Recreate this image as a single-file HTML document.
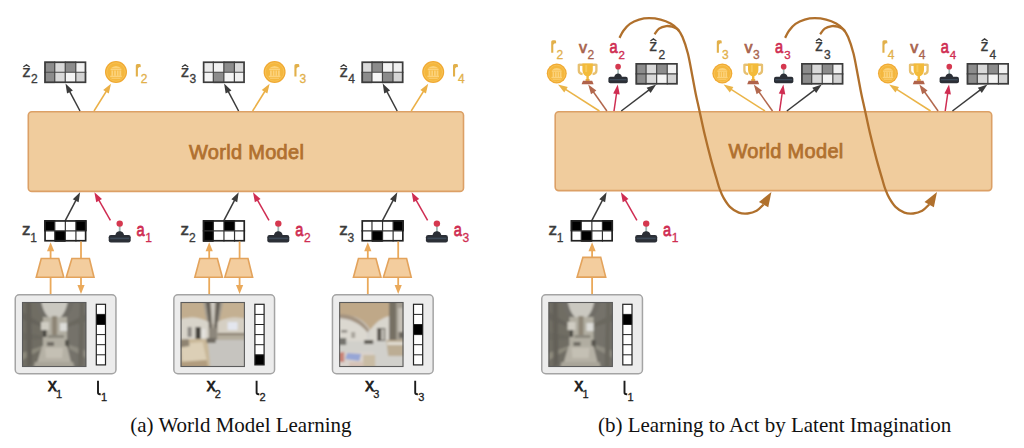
<!DOCTYPE html><html><head><meta charset="utf-8"><style>html,body{margin:0;padding:0;background:#fff;width:1024px;height:448px;overflow:hidden}svg{display:block}</style></head><body>
<svg width="1024" height="448" viewBox="0 0 1024 448" style="font-family:'Liberation Sans',sans-serif">
<defs><filter id="blur" x="-10%" y="-10%" width="120%" height="120%"><feGaussianBlur stdDeviation="0.9"/></filter><clipPath id="pc"><rect width="64.3" height="65"/></clipPath></defs>
<rect width="1024" height="448" fill="#fff"/>
<rect x="28.3" y="111.8" width="435.2" height="79.6" rx="3.5" fill="#f0cc9d" stroke="#dca066" stroke-width="1.6"/>
<text x="189" y="159.4" font-size="20" fill="#b0702f" stroke="#b0702f" stroke-width="0.75" letter-spacing="0.3">World Model</text>
<rect x="44.20" y="61.40" width="10.62" height="10.95" fill="#8c8c8c"/>
<rect x="54.73" y="61.40" width="10.62" height="10.95" fill="#d9d9d9"/>
<rect x="65.25" y="61.40" width="10.62" height="10.95" fill="#8c8c8c"/>
<rect x="75.78" y="61.40" width="10.62" height="10.95" fill="#f1f1f1"/>
<rect x="44.20" y="72.25" width="10.62" height="10.95" fill="#8c8c8c"/>
<rect x="54.73" y="72.25" width="10.62" height="10.95" fill="#d9d9d9"/>
<rect x="65.25" y="72.25" width="10.62" height="10.95" fill="#f4f4f4"/>
<rect x="75.78" y="72.25" width="10.62" height="10.95" fill="#d3d3d3"/>
<line x1="54.73" y1="61.4" x2="54.73" y2="83.1" stroke="#444" stroke-width="1.2"/>
<line x1="65.25" y1="61.4" x2="65.25" y2="83.1" stroke="#444" stroke-width="1.2"/>
<line x1="75.78" y1="61.4" x2="75.78" y2="83.1" stroke="#444" stroke-width="1.2"/>
<line x1="44.2" y1="72.25" x2="86.30000000000001" y2="72.25" stroke="#444" stroke-width="1.2"/>
<rect x="45.05" y="62.25" width="40.40" height="20.00" fill="none" stroke="#3c3c3c" stroke-width="1.7"/>
<text x="22.2" y="76.7" font-size="17" fill="#3b3b3b" stroke="#3b3b3b" stroke-width="0.25" font-weight="normal">z</text>
<text x="31.0" y="82.8" font-size="12" fill="#3b3b3b" stroke="#3b3b3b" stroke-width="0.3">2</text>
<path d="M23.40,67.00 L26.50,64.80 L29.60,67.00" fill="none" stroke="#3b3b3b" stroke-width="1.3" stroke-linejoin="miter"/>
<circle cx="116.0" cy="72" r="11" fill="#f0a932"/>
<circle cx="116.0" cy="72" r="9.3" fill="#f4b73e" stroke="#f9c65c" stroke-width="0.8"/>
<g transform="translate(116.0,72) scale(1.0)" fill="#fcd27a"><path d="M-5.6,-3.4 Q0,-8.6 5.6,-3.4 Z"/><rect x="-5.4" y="-3" width="10.8" height="1.2"/><rect x="-4.6" y="-1.5" width="1.8" height="5.4"/><rect x="-1.9" y="-1.5" width="1.8" height="5.4"/><rect x="0.8" y="-1.5" width="1.8" height="5.4"/><rect x="3.4" y="-1.5" width="1.8" height="5.4"/><rect x="-5.8" y="3.7" width="11.6" height="1.5"/><rect x="-4.5" y="5.8" width="9" height="1.1" opacity="0.8"/></g>
<path d="M135.80,76.50 V65.60 Q135.80,64.00 137.40,64.00 H139.40 Q140.70,64.00 140.70,65.30 V67.20 Q139.40,66.60 137.90,68.40 V76.50 Z" fill="#e2b04a"/>
<text x="140.8" y="82.5" font-size="12" fill="#e2b04a" stroke="#e2b04a" stroke-width="0.3">2</text>
<line x1="80.00" y1="111.00" x2="69.48" y2="91.11" stroke="#3b3b3b" stroke-width="1.5"/>
<path d="M65.50,83.60 L72.86,90.45 L67.03,93.54 Z" fill="#3b3b3b"/>
<line x1="94.00" y1="111.00" x2="106.50" y2="91.01" stroke="#ebb046" stroke-width="1.5"/>
<path d="M111.00,83.80 L108.76,93.60 L103.17,90.11 Z" fill="#ebb046"/>
<rect x="44.20" y="220.10" width="10.67" height="10.85" fill="#000"/>
<rect x="54.78" y="220.10" width="10.67" height="10.85" fill="#fff"/>
<rect x="65.35" y="220.10" width="10.67" height="10.85" fill="#fff"/>
<rect x="75.92" y="220.10" width="10.67" height="10.85" fill="#000"/>
<rect x="44.20" y="230.85" width="10.67" height="10.85" fill="#fff"/>
<rect x="54.78" y="230.85" width="10.67" height="10.85" fill="#000"/>
<rect x="65.35" y="230.85" width="10.67" height="10.85" fill="#fff"/>
<rect x="75.92" y="230.85" width="10.67" height="10.85" fill="#fff"/>
<line x1="54.78" y1="220.1" x2="54.78" y2="241.6" stroke="#333" stroke-width="1.2"/>
<line x1="65.35" y1="220.1" x2="65.35" y2="241.6" stroke="#333" stroke-width="1.2"/>
<line x1="75.92" y1="220.1" x2="75.92" y2="241.6" stroke="#333" stroke-width="1.2"/>
<line x1="44.2" y1="230.85" x2="86.5" y2="230.85" stroke="#333" stroke-width="1.2"/>
<rect x="45.05" y="220.95" width="40.60" height="19.80" fill="none" stroke="#222" stroke-width="1.7"/>
<text x="22.0" y="235.4" font-size="17" fill="#3b3b3b" stroke="#3b3b3b" stroke-width="0.5">z</text>
<text x="30.3" y="241.5" font-size="12" fill="#3b3b3b" stroke="#3b3b3b" stroke-width="0.3">1</text>
<g transform="translate(108.7,220) scale(1.0)">
<rect x="10.1" y="5" width="1.8" height="8" fill="#9fb6b4"/>
<circle cx="11" cy="3.6" r="3.2" fill="#d5384f"/>
<path d="M6.5,15.5 C7.5,12 9,11.3 11,11.3 C13,11.3 14.5,12 15.5,15.5 Z" fill="#2b2f36"/>
<rect x="0" y="15" width="22" height="7.5" rx="2.2" fill="#2b2f36"/>
<rect x="1.5" y="17.6" width="19" height="1.6" fill="#3d4a58"/>
</g>
<text transform="translate(136.6,236.1) scale(0.86,1.08)" font-size="17" fill="#cf2d52" stroke="#cf2d52" stroke-width="0.7">a</text>
<text x="145.3" y="241.7" font-size="12" fill="#cf2d52" stroke="#cf2d52" stroke-width="0.3">1</text>
<line x1="65.40" y1="220.40" x2="76.16" y2="199.83" stroke="#3b3b3b" stroke-width="1.5"/>
<path d="M80.10,192.30 L78.62,202.25 L72.77,199.19 Z" fill="#3b3b3b"/>
<line x1="110.40" y1="220.40" x2="98.61" y2="199.69" stroke="#cf2d52" stroke-width="1.5"/>
<path d="M94.40,192.30 L101.97,198.92 L96.23,202.19 Z" fill="#cf2d52"/>
<line x1="50.60" y1="294.40" x2="50.60" y2="250.20" stroke="#eaa95a" stroke-width="1.8"/>
<path d="M50.60,242.20 L54.20,251.20 L47.00,251.20 Z" fill="#eaa95a"/>
<line x1="81.00" y1="241.50" x2="81.00" y2="286.00" stroke="#eaa95a" stroke-width="1.8"/>
<path d="M81.00,294.00 L77.40,285.00 L84.60,285.00 Z" fill="#eaa95a"/>
<path d="M41.25,258.5 L58.75,258.5 L63.75,277.25 L36.25,277.25 Z" fill="#f3cd9e" stroke="#e3a35c" stroke-width="1.6" stroke-linejoin="miter"/>
<path d="M71.9,258.5 L89.4,258.5 L94.0,277.25 L66.25,277.25 Z" fill="#f3cd9e" stroke="#e3a35c" stroke-width="1.6" stroke-linejoin="miter"/>
<rect x="15.25" y="294.75" width="100.7" height="79" rx="4" fill="#ececec" stroke="#a4a4a4" stroke-width="1.5"/>
<g transform="translate(22.0,302)"><g clip-path="url(#pc)"><g filter="url(#blur)"><rect x="-3" y="-3" width="71" height="71" fill="#8f8c81"/><path d="M-3,-3 L17,-3 L21,16 L21,46 L13,68 L-3,68 Z" fill="#706d64"/><path d="M-3,8 L20,22 L20,25 L-3,16 Z" fill="#66635b"/><path d="M-3,30 L20,34 L20,37 L-3,38 Z" fill="#6a675e"/><path d="M-3,52 L20,44 L18,48 L-3,60 Z" fill="#8c897c"/><path d="M4,-3 L9,-3 L10,62 L5,66 Z" fill="#636058"/><path d="M68,-3 L48,-3 L44,16 L44,46 L51,68 L68,68 Z" fill="#75726a"/><path d="M68,10 L45,22 L45,25 L68,18 Z" fill="#6a675f"/><path d="M68,50 L45,42 L46,46 L68,58 Z" fill="#8e8b80"/><path d="M58,-3 L62,-3 L61,64 L56,66 Z" fill="#6a675f"/><path d="M17,-3 L48,-3 L43,15 L22,15 Z" fill="#cac8c0"/><path d="M13,-3 L19,-3 Q20,9 27,16 L23,18 Q14,10 13,-3 Z" fill="#6f6d66"/><path d="M52,-3 L46,-3 Q45,9 38,16 L42,18 Q51,10 52,-3 Z" fill="#6f6d66"/><rect x="21" y="15" width="24" height="30" fill="#b1ada1"/><rect x="19" y="20" width="8" height="8" fill="#cfccc2"/><rect x="30" y="14" width="5" height="20" fill="#8d8576"/><rect x="38" y="21" width="7" height="8" fill="#dcdcd8"/><rect x="21" y="28" width="3.5" height="7" fill="#47443f"/><rect x="26" y="33" width="16" height="3" fill="#8a877d"/><rect x="43" y="38" width="4" height="8" fill="#55524b"/><path d="M20,44 L45,44 L51,68 L13,68 Z" fill="#b5b1a5"/><path d="M23,46 L41,46 L40,56 L24,56 Z" fill="#c4c0b4"/><rect x="25" y="40" width="7" height="4" fill="#6f6c63"/><path d="M13,60 L51,60 L53,68 L11,68 Z" fill="#a9a599"/></g></g></g>
<rect x="22.5" y="302.5" width="63.3" height="64" fill="none" stroke="#5c5c5c" stroke-width="1.1"/>
<rect x="96.3" y="304.3" width="9.2" height="60.6" fill="#fff"/>
<rect x="96.3" y="314.40" width="9.2" height="10.10" fill="#000"/>
<line x1="96.3" y1="314.40" x2="105.5" y2="314.40" stroke="#222" stroke-width="1"/>
<line x1="96.3" y1="324.50" x2="105.5" y2="324.50" stroke="#222" stroke-width="1"/>
<line x1="96.3" y1="334.60" x2="105.5" y2="334.60" stroke="#222" stroke-width="1"/>
<line x1="96.3" y1="344.70" x2="105.5" y2="344.70" stroke="#222" stroke-width="1"/>
<line x1="96.3" y1="354.80" x2="105.5" y2="354.80" stroke="#222" stroke-width="1"/>
<rect x="96.3" y="304.3" width="9.2" height="60.6" fill="none" stroke="#222" stroke-width="1.2"/>
<text x="48.1" y="391.1" font-size="17.5" fill="#1c1c1c" stroke="#1c1c1c" stroke-width="0.75">x</text>
<text x="56.1" y="397.9" font-size="11" fill="#1c1c1c" stroke="#1c1c1c" stroke-width="0.3">1</text>
<path d="M98.0,380.8 V392.5 Q98.0,394.2 100.0,394.2 H100.7" fill="none" stroke="#1c1c1c" stroke-width="1.9"/>
<text x="101.0" y="401.1" font-size="11" fill="#1c1c1c" stroke="#1c1c1c" stroke-width="0.3">1</text>
<rect x="202.80" y="61.40" width="10.62" height="10.95" fill="#eaeaea"/>
<rect x="213.33" y="61.40" width="10.62" height="10.95" fill="#f1f1f1"/>
<rect x="223.85" y="61.40" width="10.62" height="10.95" fill="#8c8c8c"/>
<rect x="234.38" y="61.40" width="10.62" height="10.95" fill="#d9d9d9"/>
<rect x="202.80" y="72.25" width="10.62" height="10.95" fill="#f4f4f4"/>
<rect x="213.33" y="72.25" width="10.62" height="10.95" fill="#8c8c8c"/>
<rect x="223.85" y="72.25" width="10.62" height="10.95" fill="#f4f4f4"/>
<rect x="234.38" y="72.25" width="10.62" height="10.95" fill="#f1f1f1"/>
<line x1="213.33" y1="61.4" x2="213.33" y2="83.1" stroke="#444" stroke-width="1.2"/>
<line x1="223.85" y1="61.4" x2="223.85" y2="83.1" stroke="#444" stroke-width="1.2"/>
<line x1="234.38" y1="61.4" x2="234.38" y2="83.1" stroke="#444" stroke-width="1.2"/>
<line x1="202.8" y1="72.25" x2="244.9" y2="72.25" stroke="#444" stroke-width="1.2"/>
<rect x="203.65" y="62.25" width="40.40" height="20.00" fill="none" stroke="#3c3c3c" stroke-width="1.7"/>
<text x="180.79999999999998" y="76.7" font-size="17" fill="#3b3b3b" stroke="#3b3b3b" stroke-width="0.25" font-weight="normal">z</text>
<text x="189.6" y="82.8" font-size="12" fill="#3b3b3b" stroke="#3b3b3b" stroke-width="0.3">3</text>
<path d="M182.00,67.00 L185.10,64.80 L188.20,67.00" fill="none" stroke="#3b3b3b" stroke-width="1.3" stroke-linejoin="miter"/>
<circle cx="274.6" cy="72" r="11" fill="#f0a932"/>
<circle cx="274.6" cy="72" r="9.3" fill="#f4b73e" stroke="#f9c65c" stroke-width="0.8"/>
<g transform="translate(274.6,72) scale(1.0)" fill="#fcd27a"><path d="M-5.6,-3.4 Q0,-8.6 5.6,-3.4 Z"/><rect x="-5.4" y="-3" width="10.8" height="1.2"/><rect x="-4.6" y="-1.5" width="1.8" height="5.4"/><rect x="-1.9" y="-1.5" width="1.8" height="5.4"/><rect x="0.8" y="-1.5" width="1.8" height="5.4"/><rect x="3.4" y="-1.5" width="1.8" height="5.4"/><rect x="-5.8" y="3.7" width="11.6" height="1.5"/><rect x="-4.5" y="5.8" width="9" height="1.1" opacity="0.8"/></g>
<path d="M294.40,76.50 V65.60 Q294.40,64.00 296.00,64.00 H298.00 Q299.30,64.00 299.30,65.30 V67.20 Q298.00,66.60 296.50,68.40 V76.50 Z" fill="#e2b04a"/>
<text x="299.4" y="82.5" font-size="12" fill="#e2b04a" stroke="#e2b04a" stroke-width="0.3">3</text>
<line x1="238.60" y1="111.00" x2="228.08" y2="91.11" stroke="#3b3b3b" stroke-width="1.5"/>
<path d="M224.10,83.60 L231.46,90.45 L225.63,93.54 Z" fill="#3b3b3b"/>
<line x1="252.60" y1="111.00" x2="265.10" y2="91.01" stroke="#ebb046" stroke-width="1.5"/>
<path d="M269.60,83.80 L267.36,93.60 L261.77,90.11 Z" fill="#ebb046"/>
<rect x="202.80" y="220.10" width="10.67" height="10.85" fill="#000"/>
<rect x="213.38" y="220.10" width="10.67" height="10.85" fill="#fff"/>
<rect x="223.95" y="220.10" width="10.67" height="10.85" fill="#000"/>
<rect x="234.53" y="220.10" width="10.67" height="10.85" fill="#fff"/>
<rect x="202.80" y="230.85" width="10.67" height="10.85" fill="#000"/>
<rect x="213.38" y="230.85" width="10.67" height="10.85" fill="#fff"/>
<rect x="223.95" y="230.85" width="10.67" height="10.85" fill="#fff"/>
<rect x="234.53" y="230.85" width="10.67" height="10.85" fill="#fff"/>
<line x1="213.38" y1="220.1" x2="213.38" y2="241.6" stroke="#333" stroke-width="1.2"/>
<line x1="223.95" y1="220.1" x2="223.95" y2="241.6" stroke="#333" stroke-width="1.2"/>
<line x1="234.53" y1="220.1" x2="234.53" y2="241.6" stroke="#333" stroke-width="1.2"/>
<line x1="202.8" y1="230.85" x2="245.10000000000002" y2="230.85" stroke="#333" stroke-width="1.2"/>
<rect x="203.65" y="220.95" width="40.60" height="19.80" fill="none" stroke="#222" stroke-width="1.7"/>
<text x="180.6" y="235.4" font-size="17" fill="#3b3b3b" stroke="#3b3b3b" stroke-width="0.5">z</text>
<text x="188.9" y="241.5" font-size="12" fill="#3b3b3b" stroke="#3b3b3b" stroke-width="0.3">2</text>
<g transform="translate(267.3,220) scale(1.0)">
<rect x="10.1" y="5" width="1.8" height="8" fill="#9fb6b4"/>
<circle cx="11" cy="3.6" r="3.2" fill="#d5384f"/>
<path d="M6.5,15.5 C7.5,12 9,11.3 11,11.3 C13,11.3 14.5,12 15.5,15.5 Z" fill="#2b2f36"/>
<rect x="0" y="15" width="22" height="7.5" rx="2.2" fill="#2b2f36"/>
<rect x="1.5" y="17.6" width="19" height="1.6" fill="#3d4a58"/>
</g>
<text transform="translate(295.2,236.1) scale(0.86,1.08)" font-size="17" fill="#cf2d52" stroke="#cf2d52" stroke-width="0.7">a</text>
<text x="303.9" y="241.7" font-size="12" fill="#cf2d52" stroke="#cf2d52" stroke-width="0.3">2</text>
<line x1="224.00" y1="220.40" x2="234.76" y2="199.83" stroke="#3b3b3b" stroke-width="1.5"/>
<path d="M238.70,192.30 L237.22,202.25 L231.37,199.19 Z" fill="#3b3b3b"/>
<line x1="269.00" y1="220.40" x2="257.21" y2="199.69" stroke="#cf2d52" stroke-width="1.5"/>
<path d="M253.00,192.30 L260.57,198.92 L254.83,202.19 Z" fill="#cf2d52"/>
<line x1="209.20" y1="294.40" x2="209.20" y2="250.20" stroke="#eaa95a" stroke-width="1.8"/>
<path d="M209.20,242.20 L212.80,251.20 L205.60,251.20 Z" fill="#eaa95a"/>
<line x1="239.60" y1="241.50" x2="239.60" y2="286.00" stroke="#eaa95a" stroke-width="1.8"/>
<path d="M239.60,294.00 L236.00,285.00 L243.20,285.00 Z" fill="#eaa95a"/>
<path d="M199.85,258.5 L217.35,258.5 L222.35,277.25 L194.85,277.25 Z" fill="#f3cd9e" stroke="#e3a35c" stroke-width="1.6" stroke-linejoin="miter"/>
<path d="M230.5,258.5 L248.0,258.5 L252.6,277.25 L224.85,277.25 Z" fill="#f3cd9e" stroke="#e3a35c" stroke-width="1.6" stroke-linejoin="miter"/>
<rect x="173.85" y="294.75" width="100.7" height="79" rx="4" fill="#ececec" stroke="#a4a4a4" stroke-width="1.5"/>
<g transform="translate(180.6,302)"><g clip-path="url(#pc)"><g filter="url(#blur)"><rect x="-3" y="-3" width="71" height="71" fill="#cfc9bd"/><path d="M-3,-3 H30 L28,20 Q14,12 -3,18 Z" fill="#c2ad8e"/><path d="M35,-3 H68 V18 Q52,12 37,20 Z" fill="#c4b092"/><path d="M22,-3 L43,-3 L37,30 L28,30 Z" fill="#a39c90"/><path d="M25,-3 L29,-3 L31,28 L29,28 Z" fill="#5f5a52"/><path d="M36,-3 L40,-3 L36,28 L34,28 Z" fill="#5f5a52"/><path d="M30.5,-3 L34,-3 L33,22 L32,22 Z" fill="#d6d2ca"/><rect x="28" y="26" width="9" height="13" fill="#8d877b"/><path d="M-3,18 Q14,12 28,20 V38 H-3 Z" fill="#d8d4ca"/><rect x="7" y="25" width="4" height="10" fill="#8a8782"/><rect x="15" y="25" width="5" height="12" fill="#3f3c38"/><rect x="21" y="27" width="4" height="9" fill="#e4e2de"/><path d="M37,20 Q52,12 68,18 V33 H37 Z" fill="#d5cfc3"/><rect x="47" y="20" width="10" height="8" fill="#e3e6ee"/><rect x="37" y="31" width="31" height="2.5" fill="#857c6c"/><rect x="37" y="33.5" width="31" height="4.5" fill="#b5ad9e"/><rect x="26" y="38" width="42" height="30" fill="#c6c4bf"/><path d="M-3,37 H27 L30,68 H-3 Z" fill="#c9b899"/><path d="M0,42 L22,40 L26,58 L2,61 Z" fill="#dccfb6"/><path d="M-3,38 L8,37 L9,44 L-3,46 Z" fill="#8f8472"/><path d="M-3,60 L26,58 L28,68 L-3,68 Z" fill="#b19c7e"/><rect x="26" y="36" width="9" height="5" fill="#6f6a62"/></g></g></g>
<rect x="181.1" y="302.5" width="63.3" height="64" fill="none" stroke="#5c5c5c" stroke-width="1.1"/>
<rect x="254.89999999999998" y="304.3" width="9.2" height="60.6" fill="#fff"/>
<rect x="254.89999999999998" y="354.80" width="9.2" height="10.10" fill="#000"/>
<line x1="254.89999999999998" y1="314.40" x2="264.09999999999997" y2="314.40" stroke="#222" stroke-width="1"/>
<line x1="254.89999999999998" y1="324.50" x2="264.09999999999997" y2="324.50" stroke="#222" stroke-width="1"/>
<line x1="254.89999999999998" y1="334.60" x2="264.09999999999997" y2="334.60" stroke="#222" stroke-width="1"/>
<line x1="254.89999999999998" y1="344.70" x2="264.09999999999997" y2="344.70" stroke="#222" stroke-width="1"/>
<line x1="254.89999999999998" y1="354.80" x2="264.09999999999997" y2="354.80" stroke="#222" stroke-width="1"/>
<rect x="254.89999999999998" y="304.3" width="9.2" height="60.6" fill="none" stroke="#222" stroke-width="1.2"/>
<text x="206.7" y="391.1" font-size="17.5" fill="#1c1c1c" stroke="#1c1c1c" stroke-width="0.75">x</text>
<text x="214.7" y="397.9" font-size="11" fill="#1c1c1c" stroke="#1c1c1c" stroke-width="0.3">2</text>
<path d="M256.6,380.8 V392.5 Q256.6,394.2 258.6,394.2 H259.3" fill="none" stroke="#1c1c1c" stroke-width="1.9"/>
<text x="259.6" y="401.1" font-size="11" fill="#1c1c1c" stroke="#1c1c1c" stroke-width="0.3">2</text>
<rect x="361.40" y="61.40" width="10.62" height="10.95" fill="#d9d9d9"/>
<rect x="371.92" y="61.40" width="10.62" height="10.95" fill="#8c8c8c"/>
<rect x="382.45" y="61.40" width="10.62" height="10.95" fill="#f4f4f4"/>
<rect x="392.97" y="61.40" width="10.62" height="10.95" fill="#f1f1f1"/>
<rect x="361.40" y="72.25" width="10.62" height="10.95" fill="#8c8c8c"/>
<rect x="371.92" y="72.25" width="10.62" height="10.95" fill="#f7f7f7"/>
<rect x="382.45" y="72.25" width="10.62" height="10.95" fill="#8c8c8c"/>
<rect x="392.97" y="72.25" width="10.62" height="10.95" fill="#d6d6d6"/>
<line x1="371.92" y1="61.4" x2="371.92" y2="83.1" stroke="#444" stroke-width="1.2"/>
<line x1="382.45" y1="61.4" x2="382.45" y2="83.1" stroke="#444" stroke-width="1.2"/>
<line x1="392.97" y1="61.4" x2="392.97" y2="83.1" stroke="#444" stroke-width="1.2"/>
<line x1="361.4" y1="72.25" x2="403.5" y2="72.25" stroke="#444" stroke-width="1.2"/>
<rect x="362.25" y="62.25" width="40.40" height="20.00" fill="none" stroke="#3c3c3c" stroke-width="1.7"/>
<text x="339.4" y="76.7" font-size="17" fill="#3b3b3b" stroke="#3b3b3b" stroke-width="0.25" font-weight="normal">z</text>
<text x="348.2" y="82.8" font-size="12" fill="#3b3b3b" stroke="#3b3b3b" stroke-width="0.3">4</text>
<path d="M340.60,67.00 L343.70,64.80 L346.80,67.00" fill="none" stroke="#3b3b3b" stroke-width="1.3" stroke-linejoin="miter"/>
<circle cx="433.2" cy="72" r="11" fill="#f0a932"/>
<circle cx="433.2" cy="72" r="9.3" fill="#f4b73e" stroke="#f9c65c" stroke-width="0.8"/>
<g transform="translate(433.2,72) scale(1.0)" fill="#fcd27a"><path d="M-5.6,-3.4 Q0,-8.6 5.6,-3.4 Z"/><rect x="-5.4" y="-3" width="10.8" height="1.2"/><rect x="-4.6" y="-1.5" width="1.8" height="5.4"/><rect x="-1.9" y="-1.5" width="1.8" height="5.4"/><rect x="0.8" y="-1.5" width="1.8" height="5.4"/><rect x="3.4" y="-1.5" width="1.8" height="5.4"/><rect x="-5.8" y="3.7" width="11.6" height="1.5"/><rect x="-4.5" y="5.8" width="9" height="1.1" opacity="0.8"/></g>
<path d="M453.00,76.50 V65.60 Q453.00,64.00 454.60,64.00 H456.60 Q457.90,64.00 457.90,65.30 V67.20 Q456.60,66.60 455.10,68.40 V76.50 Z" fill="#e2b04a"/>
<text x="458.0" y="82.5" font-size="12" fill="#e2b04a" stroke="#e2b04a" stroke-width="0.3">4</text>
<line x1="397.20" y1="111.00" x2="386.68" y2="91.11" stroke="#3b3b3b" stroke-width="1.5"/>
<path d="M382.70,83.60 L390.06,90.45 L384.23,93.54 Z" fill="#3b3b3b"/>
<line x1="411.20" y1="111.00" x2="423.70" y2="91.01" stroke="#ebb046" stroke-width="1.5"/>
<path d="M428.20,83.80 L425.96,93.60 L420.37,90.11 Z" fill="#ebb046"/>
<rect x="361.40" y="220.10" width="10.67" height="10.85" fill="#fff"/>
<rect x="371.97" y="220.10" width="10.67" height="10.85" fill="#fff"/>
<rect x="382.55" y="220.10" width="10.67" height="10.85" fill="#fff"/>
<rect x="393.12" y="220.10" width="10.67" height="10.85" fill="#000"/>
<rect x="361.40" y="230.85" width="10.67" height="10.85" fill="#fff"/>
<rect x="371.97" y="230.85" width="10.67" height="10.85" fill="#000"/>
<rect x="382.55" y="230.85" width="10.67" height="10.85" fill="#fff"/>
<rect x="393.12" y="230.85" width="10.67" height="10.85" fill="#fff"/>
<line x1="371.97" y1="220.1" x2="371.97" y2="241.6" stroke="#333" stroke-width="1.2"/>
<line x1="382.55" y1="220.1" x2="382.55" y2="241.6" stroke="#333" stroke-width="1.2"/>
<line x1="393.12" y1="220.1" x2="393.12" y2="241.6" stroke="#333" stroke-width="1.2"/>
<line x1="361.4" y1="230.85" x2="403.7" y2="230.85" stroke="#333" stroke-width="1.2"/>
<rect x="362.25" y="220.95" width="40.60" height="19.80" fill="none" stroke="#222" stroke-width="1.7"/>
<text x="339.2" y="235.4" font-size="17" fill="#3b3b3b" stroke="#3b3b3b" stroke-width="0.5">z</text>
<text x="347.5" y="241.5" font-size="12" fill="#3b3b3b" stroke="#3b3b3b" stroke-width="0.3">3</text>
<g transform="translate(425.9,220) scale(1.0)">
<rect x="10.1" y="5" width="1.8" height="8" fill="#9fb6b4"/>
<circle cx="11" cy="3.6" r="3.2" fill="#d5384f"/>
<path d="M6.5,15.5 C7.5,12 9,11.3 11,11.3 C13,11.3 14.5,12 15.5,15.5 Z" fill="#2b2f36"/>
<rect x="0" y="15" width="22" height="7.5" rx="2.2" fill="#2b2f36"/>
<rect x="1.5" y="17.6" width="19" height="1.6" fill="#3d4a58"/>
</g>
<text transform="translate(453.79999999999995,236.1) scale(0.86,1.08)" font-size="17" fill="#cf2d52" stroke="#cf2d52" stroke-width="0.7">a</text>
<text x="462.5" y="241.7" font-size="12" fill="#cf2d52" stroke="#cf2d52" stroke-width="0.3">3</text>
<line x1="382.60" y1="220.40" x2="393.36" y2="199.83" stroke="#3b3b3b" stroke-width="1.5"/>
<path d="M397.30,192.30 L395.82,202.25 L389.97,199.19 Z" fill="#3b3b3b"/>
<line x1="427.60" y1="220.40" x2="415.81" y2="199.69" stroke="#cf2d52" stroke-width="1.5"/>
<path d="M411.60,192.30 L419.17,198.92 L413.43,202.19 Z" fill="#cf2d52"/>
<line x1="367.80" y1="294.40" x2="367.80" y2="250.20" stroke="#eaa95a" stroke-width="1.8"/>
<path d="M367.80,242.20 L371.40,251.20 L364.20,251.20 Z" fill="#eaa95a"/>
<line x1="398.20" y1="241.50" x2="398.20" y2="286.00" stroke="#eaa95a" stroke-width="1.8"/>
<path d="M398.20,294.00 L394.60,285.00 L401.80,285.00 Z" fill="#eaa95a"/>
<path d="M358.45,258.5 L375.95,258.5 L380.95,277.25 L353.45,277.25 Z" fill="#f3cd9e" stroke="#e3a35c" stroke-width="1.6" stroke-linejoin="miter"/>
<path d="M389.1,258.5 L406.6,258.5 L411.2,277.25 L383.45,277.25 Z" fill="#f3cd9e" stroke="#e3a35c" stroke-width="1.6" stroke-linejoin="miter"/>
<rect x="332.45" y="294.75" width="100.7" height="79" rx="4" fill="#ececec" stroke="#a4a4a4" stroke-width="1.5"/>
<g transform="translate(339.2,302)"><g clip-path="url(#pc)"><g filter="url(#blur)"><rect x="-3" y="-3" width="71" height="71" fill="#d3d1cc"/><path d="M-3,-3 H52 V14 Q40,16 31,28 Q20,10 -3,14 Z" fill="#bfa888"/><path d="M-3,12.5 Q18,10.5 30,28 L28.5,30.5 Q16,15.5 -3,16 Z" fill="#a39380"/><path d="M-3,17 Q16,16 28,31 L28,40 H-3 Z" fill="#dbd8d0"/><rect x="2" y="28" width="6" height="2.5" fill="#8a8680"/><rect x="12" y="30" width="4" height="6" fill="#a8a49c"/><path d="M31,28 Q40,16 50,14 V40 H30 Z" fill="#d9d6ce"/><rect x="38" y="26" width="8" height="13" fill="#56524c"/><rect x="42" y="27" width="3" height="11" fill="#c4c0b8"/><rect x="50" y="-3" width="18" height="44" fill="#a49e92"/><rect x="50" y="-3" width="7" height="44" fill="#766f64"/><rect x="59" y="6" width="5" height="24" fill="#c4bfb5"/><rect x="60" y="30" width="6" height="6" fill="#6a665e"/><rect x="-3" y="39" width="71" height="30" fill="#d1d0cb"/><path d="M47,38 H68 V54 H49 Z" fill="#bcad94"/><rect x="48" y="40" width="18" height="3" fill="#e0dcd2"/><rect x="25" y="38" width="9" height="4" fill="#5f5c55"/><path d="M-3,36 H7 V43 H-3 Z" fill="#75736e"/><path d="M-3,50 L34,50 L36,66 L-3,66 Z" fill="#d9d2cc"/><path d="M8,51 L22,52 L20,59 L6,57 Z" fill="#97a6d6"/><path d="M-3,51 L5,50 L5,60 L-3,60 Z" fill="#c98276"/><path d="M24,53 L36,53 L36,66 L24,66 Z" fill="#c9bca4"/><path d="M10,60 L24,60 L24,66 L10,66 Z" fill="#d5c2b6"/></g></g></g>
<rect x="339.7" y="302.5" width="63.3" height="64" fill="none" stroke="#5c5c5c" stroke-width="1.1"/>
<rect x="413.5" y="304.3" width="9.2" height="60.6" fill="#fff"/>
<rect x="413.5" y="324.50" width="9.2" height="10.10" fill="#000"/>
<line x1="413.5" y1="314.40" x2="422.7" y2="314.40" stroke="#222" stroke-width="1"/>
<line x1="413.5" y1="324.50" x2="422.7" y2="324.50" stroke="#222" stroke-width="1"/>
<line x1="413.5" y1="334.60" x2="422.7" y2="334.60" stroke="#222" stroke-width="1"/>
<line x1="413.5" y1="344.70" x2="422.7" y2="344.70" stroke="#222" stroke-width="1"/>
<line x1="413.5" y1="354.80" x2="422.7" y2="354.80" stroke="#222" stroke-width="1"/>
<rect x="413.5" y="304.3" width="9.2" height="60.6" fill="none" stroke="#222" stroke-width="1.2"/>
<text x="365.3" y="391.1" font-size="17.5" fill="#1c1c1c" stroke="#1c1c1c" stroke-width="0.75">x</text>
<text x="373.3" y="397.9" font-size="11" fill="#1c1c1c" stroke="#1c1c1c" stroke-width="0.3">3</text>
<path d="M415.2,380.8 V392.5 Q415.2,394.2 417.2,394.2 H417.9" fill="none" stroke="#1c1c1c" stroke-width="1.9"/>
<text x="418.2" y="401.1" font-size="11" fill="#1c1c1c" stroke="#1c1c1c" stroke-width="0.3">3</text>
<text x="240.9" y="432" font-size="21" fill="#111" text-anchor="middle" style="font-family:'Liberation Serif',serif">(a) World Model Learning</text>
<rect x="555.2" y="111.8" width="436.5" height="78.8" rx="3.5" fill="#f0cc9d" stroke="#dca066" stroke-width="1.6"/>
<text x="728.4" y="158.1" font-size="20" fill="#b0702f" stroke="#b0702f" stroke-width="0.75" letter-spacing="0.3">World Model</text>
<path d="M551.20,52.75 V41.85 Q551.20,40.25 552.80,40.25 H554.80 Q556.10,40.25 556.10,41.55 V43.45 Q554.80,42.85 553.30,44.65 V52.75 Z" fill="#e2b04a"/>
<text x="556.5" y="58.8" font-size="12" fill="#e2b04a" stroke="#e2b04a" stroke-width="0.3">2</text>
<text x="579.0" y="52.6" font-size="16" fill="#a8634d" stroke="#a8634d" stroke-width="0.7" font-weight="normal">v</text>
<text x="587.5" y="58.9" font-size="12" fill="#a8634d" stroke="#a8634d" stroke-width="0.3">2</text>
<text transform="translate(609.5,52.5) scale(0.86,1.06)" font-size="17" fill="#cf2d52" stroke="#cf2d52" stroke-width="0.7">a</text>
<text x="618.6" y="58.8" font-size="11.5" fill="#cf2d52" stroke="#cf2d52" stroke-width="0.35">2</text>
<text x="649.3" y="51.4" font-size="16" fill="#3b3b3b" stroke="#3b3b3b" stroke-width="0.25" font-weight="normal">z</text>
<text x="658.4" y="58.8" font-size="12" fill="#3b3b3b" stroke="#3b3b3b" stroke-width="0.3">2</text>
<path d="M650.40,41.10 L653.40,38.90 L656.40,41.10" fill="none" stroke="#3b3b3b" stroke-width="1.3" stroke-linejoin="miter"/>
<circle cx="556.75" cy="73.5" r="10" fill="#f0a932"/>
<circle cx="556.75" cy="73.5" r="8.3" fill="#f4b73e" stroke="#f9c65c" stroke-width="0.8"/>
<g transform="translate(556.75,73.5) scale(0.9090909090909091)" fill="#fcd27a"><path d="M-5.6,-3.4 Q0,-8.6 5.6,-3.4 Z"/><rect x="-5.4" y="-3" width="10.8" height="1.2"/><rect x="-4.6" y="-1.5" width="1.8" height="5.4"/><rect x="-1.9" y="-1.5" width="1.8" height="5.4"/><rect x="0.8" y="-1.5" width="1.8" height="5.4"/><rect x="3.4" y="-1.5" width="1.8" height="5.4"/><rect x="-5.8" y="3.7" width="11.6" height="1.5"/><rect x="-4.5" y="5.8" width="9" height="1.1" opacity="0.8"/></g>
<g transform="translate(576.6,63.6)">
<path d="M2.2,1.2 H19.8 V7 Q19.8,10.2 16,10.6" fill="none" stroke="#e7c070" stroke-width="2.3" stroke-linejoin="round"/>
<path d="M19.8,1.2 H2.2 V7 Q2.2,10.2 6,10.6" fill="none" stroke="#e7c070" stroke-width="2.3" stroke-linejoin="round"/>
<path d="M5.8,0 H16.2 V6.5 C16.2,10 14,12 12.2,12.6 V16.5 H9.8 V12.6 C8,12 5.8,10 5.8,6.5 Z" fill="#f3bb3a"/>
<rect x="8.6" y="1.5" width="2" height="7" fill="#f8cf66" opacity="0.7"/>
<rect x="9" y="15.5" width="4" height="1.8" fill="#e9a83a"/>
<path d="M5,20.6 L6.4,17.2 H15.6 L17,20.6 Z" fill="#b0624a"/>
</g>
<g transform="translate(608.4,63.5) scale(0.88)">
<rect x="10.1" y="5" width="1.8" height="8" fill="#9fb6b4"/>
<circle cx="11" cy="3.6" r="3.2" fill="#d5384f"/>
<path d="M6.5,15.5 C7.5,12 9,11.3 11,11.3 C13,11.3 14.5,12 15.5,15.5 Z" fill="#2b2f36"/>
<rect x="0" y="15" width="22" height="7.5" rx="2.2" fill="#2b2f36"/>
<rect x="1.5" y="17.6" width="19" height="1.6" fill="#3d4a58"/>
</g>
<rect x="635.50" y="63.00" width="10.67" height="10.90" fill="#8c8c8c"/>
<rect x="646.08" y="63.00" width="10.67" height="10.90" fill="#d9d9d9"/>
<rect x="656.65" y="63.00" width="10.67" height="10.90" fill="#8c8c8c"/>
<rect x="667.23" y="63.00" width="10.67" height="10.90" fill="#f1f1f1"/>
<rect x="635.50" y="73.80" width="10.67" height="10.90" fill="#8c8c8c"/>
<rect x="646.08" y="73.80" width="10.67" height="10.90" fill="#d9d9d9"/>
<rect x="656.65" y="73.80" width="10.67" height="10.90" fill="#f4f4f4"/>
<rect x="667.23" y="73.80" width="10.67" height="10.90" fill="#d3d3d3"/>
<line x1="646.08" y1="63.0" x2="646.08" y2="84.6" stroke="#444" stroke-width="1.2"/>
<line x1="656.65" y1="63.0" x2="656.65" y2="84.6" stroke="#444" stroke-width="1.2"/>
<line x1="667.23" y1="63.0" x2="667.23" y2="84.6" stroke="#444" stroke-width="1.2"/>
<line x1="635.5" y1="73.80" x2="677.8" y2="73.80" stroke="#444" stroke-width="1.2"/>
<rect x="636.35" y="63.85" width="40.60" height="19.90" fill="none" stroke="#3c3c3c" stroke-width="1.7"/>
<line x1="599.40" y1="111.00" x2="565.17" y2="89.17" stroke="#eab448" stroke-width="1.5"/>
<path d="M558.00,84.60 L567.78,86.93 L564.24,92.49 Z" fill="#eab448"/>
<line x1="606.90" y1="111.00" x2="593.11" y2="91.54" stroke="#b2684e" stroke-width="1.5"/>
<path d="M588.20,84.60 L596.38,90.44 L591.00,94.26 Z" fill="#b2684e"/>
<line x1="614.00" y1="111.00" x2="616.59" y2="93.01" stroke="#cf2d52" stroke-width="1.5"/>
<path d="M617.80,84.60 L619.71,94.47 L613.18,93.53 Z" fill="#cf2d52"/>
<line x1="621.25" y1="111.00" x2="649.42" y2="89.72" stroke="#3b3b3b" stroke-width="1.5"/>
<path d="M656.20,84.60 L650.61,92.96 L646.63,87.69 Z" fill="#3b3b3b"/>
<path d="M716.80,52.75 V41.85 Q716.80,40.25 718.40,40.25 H720.40 Q721.70,40.25 721.70,41.55 V43.45 Q720.40,42.85 718.90,44.65 V52.75 Z" fill="#e2b04a"/>
<text x="722.1" y="58.8" font-size="12" fill="#e2b04a" stroke="#e2b04a" stroke-width="0.3">3</text>
<text x="744.6" y="52.6" font-size="16" fill="#a8634d" stroke="#a8634d" stroke-width="0.7" font-weight="normal">v</text>
<text x="753.1" y="58.9" font-size="12" fill="#a8634d" stroke="#a8634d" stroke-width="0.3">3</text>
<text transform="translate(775.1,52.5) scale(0.86,1.06)" font-size="17" fill="#cf2d52" stroke="#cf2d52" stroke-width="0.7">a</text>
<text x="784.2" y="58.8" font-size="11.5" fill="#cf2d52" stroke="#cf2d52" stroke-width="0.35">3</text>
<text x="814.9" y="51.4" font-size="16" fill="#3b3b3b" stroke="#3b3b3b" stroke-width="0.25" font-weight="normal">z</text>
<text x="824.0" y="58.8" font-size="12" fill="#3b3b3b" stroke="#3b3b3b" stroke-width="0.3">3</text>
<path d="M816.00,41.10 L819.00,38.90 L822.00,41.10" fill="none" stroke="#3b3b3b" stroke-width="1.3" stroke-linejoin="miter"/>
<circle cx="722.35" cy="73.5" r="10" fill="#f0a932"/>
<circle cx="722.35" cy="73.5" r="8.3" fill="#f4b73e" stroke="#f9c65c" stroke-width="0.8"/>
<g transform="translate(722.35,73.5) scale(0.9090909090909091)" fill="#fcd27a"><path d="M-5.6,-3.4 Q0,-8.6 5.6,-3.4 Z"/><rect x="-5.4" y="-3" width="10.8" height="1.2"/><rect x="-4.6" y="-1.5" width="1.8" height="5.4"/><rect x="-1.9" y="-1.5" width="1.8" height="5.4"/><rect x="0.8" y="-1.5" width="1.8" height="5.4"/><rect x="3.4" y="-1.5" width="1.8" height="5.4"/><rect x="-5.8" y="3.7" width="11.6" height="1.5"/><rect x="-4.5" y="5.8" width="9" height="1.1" opacity="0.8"/></g>
<g transform="translate(742.2,63.6)">
<path d="M2.2,1.2 H19.8 V7 Q19.8,10.2 16,10.6" fill="none" stroke="#e7c070" stroke-width="2.3" stroke-linejoin="round"/>
<path d="M19.8,1.2 H2.2 V7 Q2.2,10.2 6,10.6" fill="none" stroke="#e7c070" stroke-width="2.3" stroke-linejoin="round"/>
<path d="M5.8,0 H16.2 V6.5 C16.2,10 14,12 12.2,12.6 V16.5 H9.8 V12.6 C8,12 5.8,10 5.8,6.5 Z" fill="#f3bb3a"/>
<rect x="8.6" y="1.5" width="2" height="7" fill="#f8cf66" opacity="0.7"/>
<rect x="9" y="15.5" width="4" height="1.8" fill="#e9a83a"/>
<path d="M5,20.6 L6.4,17.2 H15.6 L17,20.6 Z" fill="#b0624a"/>
</g>
<g transform="translate(774.0,63.5) scale(0.88)">
<rect x="10.1" y="5" width="1.8" height="8" fill="#9fb6b4"/>
<circle cx="11" cy="3.6" r="3.2" fill="#d5384f"/>
<path d="M6.5,15.5 C7.5,12 9,11.3 11,11.3 C13,11.3 14.5,12 15.5,15.5 Z" fill="#2b2f36"/>
<rect x="0" y="15" width="22" height="7.5" rx="2.2" fill="#2b2f36"/>
<rect x="1.5" y="17.6" width="19" height="1.6" fill="#3d4a58"/>
</g>
<rect x="801.10" y="63.00" width="10.67" height="10.90" fill="#8c8c8c"/>
<rect x="811.68" y="63.00" width="10.67" height="10.90" fill="#d9d9d9"/>
<rect x="822.25" y="63.00" width="10.67" height="10.90" fill="#8c8c8c"/>
<rect x="832.83" y="63.00" width="10.67" height="10.90" fill="#f1f1f1"/>
<rect x="801.10" y="73.80" width="10.67" height="10.90" fill="#8c8c8c"/>
<rect x="811.68" y="73.80" width="10.67" height="10.90" fill="#d9d9d9"/>
<rect x="822.25" y="73.80" width="10.67" height="10.90" fill="#f4f4f4"/>
<rect x="832.83" y="73.80" width="10.67" height="10.90" fill="#d3d3d3"/>
<line x1="811.68" y1="63.0" x2="811.68" y2="84.6" stroke="#444" stroke-width="1.2"/>
<line x1="822.25" y1="63.0" x2="822.25" y2="84.6" stroke="#444" stroke-width="1.2"/>
<line x1="832.83" y1="63.0" x2="832.83" y2="84.6" stroke="#444" stroke-width="1.2"/>
<line x1="801.1" y1="73.80" x2="843.4" y2="73.80" stroke="#444" stroke-width="1.2"/>
<rect x="801.95" y="63.85" width="40.60" height="19.90" fill="none" stroke="#3c3c3c" stroke-width="1.7"/>
<line x1="765.00" y1="111.00" x2="730.77" y2="89.17" stroke="#eab448" stroke-width="1.5"/>
<path d="M723.60,84.60 L733.38,86.93 L729.84,92.49 Z" fill="#eab448"/>
<line x1="772.50" y1="111.00" x2="758.71" y2="91.54" stroke="#b2684e" stroke-width="1.5"/>
<path d="M753.80,84.60 L761.98,90.44 L756.60,94.26 Z" fill="#b2684e"/>
<line x1="779.60" y1="111.00" x2="782.19" y2="93.01" stroke="#cf2d52" stroke-width="1.5"/>
<path d="M783.40,84.60 L785.31,94.47 L778.78,93.53 Z" fill="#cf2d52"/>
<line x1="786.85" y1="111.00" x2="815.02" y2="89.72" stroke="#3b3b3b" stroke-width="1.5"/>
<path d="M821.80,84.60 L816.21,92.96 L812.23,87.69 Z" fill="#3b3b3b"/>
<path d="M882.40,52.75 V41.85 Q882.40,40.25 884.00,40.25 H886.00 Q887.30,40.25 887.30,41.55 V43.45 Q886.00,42.85 884.50,44.65 V52.75 Z" fill="#e2b04a"/>
<text x="887.7" y="58.8" font-size="12" fill="#e2b04a" stroke="#e2b04a" stroke-width="0.3">4</text>
<text x="910.2" y="52.6" font-size="16" fill="#a8634d" stroke="#a8634d" stroke-width="0.7" font-weight="normal">v</text>
<text x="918.7" y="58.9" font-size="12" fill="#a8634d" stroke="#a8634d" stroke-width="0.3">4</text>
<text transform="translate(940.7,52.5) scale(0.86,1.06)" font-size="17" fill="#cf2d52" stroke="#cf2d52" stroke-width="0.7">a</text>
<text x="949.8" y="58.8" font-size="11.5" fill="#cf2d52" stroke="#cf2d52" stroke-width="0.35">4</text>
<text x="980.5" y="51.4" font-size="16" fill="#3b3b3b" stroke="#3b3b3b" stroke-width="0.25" font-weight="normal">z</text>
<text x="989.5999999999999" y="58.8" font-size="12" fill="#3b3b3b" stroke="#3b3b3b" stroke-width="0.3">4</text>
<path d="M981.60,41.10 L984.60,38.90 L987.60,41.10" fill="none" stroke="#3b3b3b" stroke-width="1.3" stroke-linejoin="miter"/>
<circle cx="887.95" cy="73.5" r="10" fill="#f0a932"/>
<circle cx="887.95" cy="73.5" r="8.3" fill="#f4b73e" stroke="#f9c65c" stroke-width="0.8"/>
<g transform="translate(887.95,73.5) scale(0.9090909090909091)" fill="#fcd27a"><path d="M-5.6,-3.4 Q0,-8.6 5.6,-3.4 Z"/><rect x="-5.4" y="-3" width="10.8" height="1.2"/><rect x="-4.6" y="-1.5" width="1.8" height="5.4"/><rect x="-1.9" y="-1.5" width="1.8" height="5.4"/><rect x="0.8" y="-1.5" width="1.8" height="5.4"/><rect x="3.4" y="-1.5" width="1.8" height="5.4"/><rect x="-5.8" y="3.7" width="11.6" height="1.5"/><rect x="-4.5" y="5.8" width="9" height="1.1" opacity="0.8"/></g>
<g transform="translate(907.8,63.6)">
<path d="M2.2,1.2 H19.8 V7 Q19.8,10.2 16,10.6" fill="none" stroke="#e7c070" stroke-width="2.3" stroke-linejoin="round"/>
<path d="M19.8,1.2 H2.2 V7 Q2.2,10.2 6,10.6" fill="none" stroke="#e7c070" stroke-width="2.3" stroke-linejoin="round"/>
<path d="M5.8,0 H16.2 V6.5 C16.2,10 14,12 12.2,12.6 V16.5 H9.8 V12.6 C8,12 5.8,10 5.8,6.5 Z" fill="#f3bb3a"/>
<rect x="8.6" y="1.5" width="2" height="7" fill="#f8cf66" opacity="0.7"/>
<rect x="9" y="15.5" width="4" height="1.8" fill="#e9a83a"/>
<path d="M5,20.6 L6.4,17.2 H15.6 L17,20.6 Z" fill="#b0624a"/>
</g>
<g transform="translate(939.5999999999999,63.5) scale(0.88)">
<rect x="10.1" y="5" width="1.8" height="8" fill="#9fb6b4"/>
<circle cx="11" cy="3.6" r="3.2" fill="#d5384f"/>
<path d="M6.5,15.5 C7.5,12 9,11.3 11,11.3 C13,11.3 14.5,12 15.5,15.5 Z" fill="#2b2f36"/>
<rect x="0" y="15" width="22" height="7.5" rx="2.2" fill="#2b2f36"/>
<rect x="1.5" y="17.6" width="19" height="1.6" fill="#3d4a58"/>
</g>
<rect x="966.70" y="63.00" width="10.67" height="10.90" fill="#8c8c8c"/>
<rect x="977.28" y="63.00" width="10.67" height="10.90" fill="#d9d9d9"/>
<rect x="987.85" y="63.00" width="10.67" height="10.90" fill="#8c8c8c"/>
<rect x="998.43" y="63.00" width="10.67" height="10.90" fill="#f1f1f1"/>
<rect x="966.70" y="73.80" width="10.67" height="10.90" fill="#8c8c8c"/>
<rect x="977.28" y="73.80" width="10.67" height="10.90" fill="#d9d9d9"/>
<rect x="987.85" y="73.80" width="10.67" height="10.90" fill="#f4f4f4"/>
<rect x="998.43" y="73.80" width="10.67" height="10.90" fill="#d3d3d3"/>
<line x1="977.28" y1="63.0" x2="977.28" y2="84.6" stroke="#444" stroke-width="1.2"/>
<line x1="987.85" y1="63.0" x2="987.85" y2="84.6" stroke="#444" stroke-width="1.2"/>
<line x1="998.43" y1="63.0" x2="998.43" y2="84.6" stroke="#444" stroke-width="1.2"/>
<line x1="966.7" y1="73.80" x2="1009.0" y2="73.80" stroke="#444" stroke-width="1.2"/>
<rect x="967.55" y="63.85" width="40.60" height="19.90" fill="none" stroke="#3c3c3c" stroke-width="1.7"/>
<line x1="930.60" y1="111.00" x2="896.37" y2="89.17" stroke="#eab448" stroke-width="1.5"/>
<path d="M889.20,84.60 L898.98,86.93 L895.44,92.49 Z" fill="#eab448"/>
<line x1="938.10" y1="111.00" x2="924.31" y2="91.54" stroke="#b2684e" stroke-width="1.5"/>
<path d="M919.40,84.60 L927.58,90.44 L922.20,94.26 Z" fill="#b2684e"/>
<line x1="945.20" y1="111.00" x2="947.79" y2="93.01" stroke="#cf2d52" stroke-width="1.5"/>
<path d="M949.00,84.60 L950.91,94.47 L944.38,93.53 Z" fill="#cf2d52"/>
<line x1="952.45" y1="111.00" x2="980.62" y2="89.72" stroke="#3b3b3b" stroke-width="1.5"/>
<path d="M987.40,84.60 L981.81,92.96 L977.83,87.69 Z" fill="#3b3b3b"/>
<path d="M619.50,37.90 C620.15,36.70 621.67,33.03 623.40,30.70 C625.13,28.37 627.28,25.75 629.90,23.90 C632.52,22.05 635.90,20.55 639.10,19.60 C642.30,18.65 645.52,18.20 649.10,18.20 C652.68,18.20 657.02,18.70 660.60,19.60 C664.18,20.50 667.75,21.98 670.60,23.60 C673.45,25.22 675.72,27.07 677.70,29.30 C679.68,31.53 680.80,32.97 682.50,37.00 C684.20,41.03 686.27,47.03 687.90,53.50 C689.53,59.97 691.00,69.10 692.30,75.80 C693.60,82.50 694.53,88.00 695.70,93.70 C696.87,99.40 697.80,103.18 699.30,110.00 C700.80,116.82 702.77,126.42 704.70,134.60 C706.63,142.78 708.87,151.53 710.90,159.10 C712.93,166.67 715.45,175.03 716.90,180.00 C718.35,184.97 718.48,185.92 719.60,188.90 C720.72,191.88 721.88,194.92 723.60,197.90 C725.32,200.88 727.37,204.35 729.90,206.80 C732.43,209.25 735.83,211.48 738.80,212.60 C741.77,213.72 744.73,213.80 747.70,213.50 C750.67,213.20 753.95,212.30 756.60,210.80 C759.25,209.30 762.43,205.55 763.60,204.50" fill="none" stroke="#b0702c" stroke-width="2.3"/>
<path d="M654.50,34.30 C655.27,33.35 657.13,29.97 659.10,28.60 C661.07,27.23 664.15,26.43 666.30,26.10 C668.45,25.77 670.30,26.18 672.00,26.60 C673.70,27.02 675.25,27.83 676.50,28.60 C677.75,29.37 679.00,30.77 679.50,31.20" fill="none" stroke="#b0702c" stroke-width="2.3"/>
<path d="M771.4,192.1 L768.25,207.2 L758.9,201.9 Z" fill="#b0702c"/>
<path d="M785.10,37.90 C785.75,36.70 787.27,33.03 789.00,30.70 C790.73,28.37 792.88,25.75 795.50,23.90 C798.12,22.05 801.50,20.55 804.70,19.60 C807.90,18.65 811.12,18.20 814.70,18.20 C818.28,18.20 822.62,18.70 826.20,19.60 C829.78,20.50 833.35,21.98 836.20,23.60 C839.05,25.22 841.32,27.07 843.30,29.30 C845.28,31.53 846.40,32.97 848.10,37.00 C849.80,41.03 851.87,47.03 853.50,53.50 C855.13,59.97 856.60,69.10 857.90,75.80 C859.20,82.50 860.13,88.00 861.30,93.70 C862.47,99.40 863.40,103.18 864.90,110.00 C866.40,116.82 868.37,126.42 870.30,134.60 C872.23,142.78 874.47,151.53 876.50,159.10 C878.53,166.67 881.05,175.03 882.50,180.00 C883.95,184.97 884.08,185.92 885.20,188.90 C886.32,191.88 887.48,194.92 889.20,197.90 C890.92,200.88 892.97,204.35 895.50,206.80 C898.03,209.25 901.43,211.48 904.40,212.60 C907.37,213.72 910.33,213.80 913.30,213.50 C916.27,213.20 919.55,212.30 922.20,210.80 C924.85,209.30 928.03,205.55 929.20,204.50" fill="none" stroke="#b0702c" stroke-width="2.3"/>
<path d="M820.10,34.30 C820.87,33.35 822.73,29.97 824.70,28.60 C826.67,27.23 829.75,26.43 831.90,26.10 C834.05,25.77 835.90,26.18 837.60,26.60 C839.30,27.02 840.85,27.83 842.10,28.60 C843.35,29.37 844.60,30.77 845.10,31.20" fill="none" stroke="#b0702c" stroke-width="2.3"/>
<path d="M937.0,192.1 L933.85,207.2 L924.5,201.9 Z" fill="#b0702c"/>
<rect x="570.70" y="220.10" width="10.67" height="10.85" fill="#000"/>
<rect x="581.28" y="220.10" width="10.67" height="10.85" fill="#fff"/>
<rect x="591.85" y="220.10" width="10.67" height="10.85" fill="#fff"/>
<rect x="602.43" y="220.10" width="10.67" height="10.85" fill="#000"/>
<rect x="570.70" y="230.85" width="10.67" height="10.85" fill="#fff"/>
<rect x="581.28" y="230.85" width="10.67" height="10.85" fill="#000"/>
<rect x="591.85" y="230.85" width="10.67" height="10.85" fill="#fff"/>
<rect x="602.43" y="230.85" width="10.67" height="10.85" fill="#fff"/>
<line x1="581.28" y1="220.1" x2="581.28" y2="241.6" stroke="#333" stroke-width="1.2"/>
<line x1="591.85" y1="220.1" x2="591.85" y2="241.6" stroke="#333" stroke-width="1.2"/>
<line x1="602.43" y1="220.1" x2="602.43" y2="241.6" stroke="#333" stroke-width="1.2"/>
<line x1="570.7" y1="230.85" x2="613.0" y2="230.85" stroke="#333" stroke-width="1.2"/>
<rect x="571.55" y="220.95" width="40.60" height="19.80" fill="none" stroke="#222" stroke-width="1.7"/>
<text x="548.5" y="235.4" font-size="17" fill="#3b3b3b" stroke="#3b3b3b" stroke-width="0.5">z</text>
<text x="556.8" y="241.5" font-size="12" fill="#3b3b3b" stroke="#3b3b3b" stroke-width="0.3">1</text>
<g transform="translate(635.2,220) scale(1.0)">
<rect x="10.1" y="5" width="1.8" height="8" fill="#9fb6b4"/>
<circle cx="11" cy="3.6" r="3.2" fill="#d5384f"/>
<path d="M6.5,15.5 C7.5,12 9,11.3 11,11.3 C13,11.3 14.5,12 15.5,15.5 Z" fill="#2b2f36"/>
<rect x="0" y="15" width="22" height="7.5" rx="2.2" fill="#2b2f36"/>
<rect x="1.5" y="17.6" width="19" height="1.6" fill="#3d4a58"/>
</g>
<text transform="translate(663.1,236.1) scale(0.86,1.08)" font-size="17" fill="#cf2d52" stroke="#cf2d52" stroke-width="0.7">a</text>
<text x="671.8" y="241.7" font-size="12" fill="#cf2d52" stroke="#cf2d52" stroke-width="0.3">1</text>
<line x1="591.90" y1="220.40" x2="602.66" y2="199.83" stroke="#3b3b3b" stroke-width="1.5"/>
<path d="M606.60,192.30 L605.12,202.25 L599.27,199.19 Z" fill="#3b3b3b"/>
<line x1="636.90" y1="220.40" x2="625.11" y2="199.69" stroke="#cf2d52" stroke-width="1.5"/>
<path d="M620.90,192.30 L628.47,198.92 L622.73,202.19 Z" fill="#cf2d52"/>
<line x1="592.10" y1="294.00" x2="592.10" y2="250.20" stroke="#eaa95a" stroke-width="1.8"/>
<path d="M592.10,242.20 L595.70,251.20 L588.50,251.20 Z" fill="#eaa95a"/>
<path d="M582.9,257.4 L600.7,257.4 L605.7,277.1 L577.1,277.1 Z" fill="#f3cd9e" stroke="#e3a35c" stroke-width="1.6" stroke-linejoin="miter"/>
<rect x="541.75" y="294.75" width="100.7" height="79" rx="4" fill="#ececec" stroke="#a4a4a4" stroke-width="1.5"/>
<g transform="translate(548.5,302)"><g clip-path="url(#pc)"><g filter="url(#blur)"><rect x="-3" y="-3" width="71" height="71" fill="#8f8c81"/><path d="M-3,-3 L17,-3 L21,16 L21,46 L13,68 L-3,68 Z" fill="#706d64"/><path d="M-3,8 L20,22 L20,25 L-3,16 Z" fill="#66635b"/><path d="M-3,30 L20,34 L20,37 L-3,38 Z" fill="#6a675e"/><path d="M-3,52 L20,44 L18,48 L-3,60 Z" fill="#8c897c"/><path d="M4,-3 L9,-3 L10,62 L5,66 Z" fill="#636058"/><path d="M68,-3 L48,-3 L44,16 L44,46 L51,68 L68,68 Z" fill="#75726a"/><path d="M68,10 L45,22 L45,25 L68,18 Z" fill="#6a675f"/><path d="M68,50 L45,42 L46,46 L68,58 Z" fill="#8e8b80"/><path d="M58,-3 L62,-3 L61,64 L56,66 Z" fill="#6a675f"/><path d="M17,-3 L48,-3 L43,15 L22,15 Z" fill="#cac8c0"/><path d="M13,-3 L19,-3 Q20,9 27,16 L23,18 Q14,10 13,-3 Z" fill="#6f6d66"/><path d="M52,-3 L46,-3 Q45,9 38,16 L42,18 Q51,10 52,-3 Z" fill="#6f6d66"/><rect x="21" y="15" width="24" height="30" fill="#b1ada1"/><rect x="19" y="20" width="8" height="8" fill="#cfccc2"/><rect x="30" y="14" width="5" height="20" fill="#8d8576"/><rect x="38" y="21" width="7" height="8" fill="#dcdcd8"/><rect x="21" y="28" width="3.5" height="7" fill="#47443f"/><rect x="26" y="33" width="16" height="3" fill="#8a877d"/><rect x="43" y="38" width="4" height="8" fill="#55524b"/><path d="M20,44 L45,44 L51,68 L13,68 Z" fill="#b5b1a5"/><path d="M23,46 L41,46 L40,56 L24,56 Z" fill="#c4c0b4"/><rect x="25" y="40" width="7" height="4" fill="#6f6c63"/><path d="M13,60 L51,60 L53,68 L11,68 Z" fill="#a9a599"/></g></g></g>
<rect x="549.0" y="302.5" width="63.3" height="64" fill="none" stroke="#5c5c5c" stroke-width="1.1"/>
<rect x="622.8" y="304.3" width="9.2" height="60.6" fill="#fff"/>
<rect x="622.8" y="314.40" width="9.2" height="10.10" fill="#000"/>
<line x1="622.8" y1="314.40" x2="632.0" y2="314.40" stroke="#222" stroke-width="1"/>
<line x1="622.8" y1="324.50" x2="632.0" y2="324.50" stroke="#222" stroke-width="1"/>
<line x1="622.8" y1="334.60" x2="632.0" y2="334.60" stroke="#222" stroke-width="1"/>
<line x1="622.8" y1="344.70" x2="632.0" y2="344.70" stroke="#222" stroke-width="1"/>
<line x1="622.8" y1="354.80" x2="632.0" y2="354.80" stroke="#222" stroke-width="1"/>
<rect x="622.8" y="304.3" width="9.2" height="60.6" fill="none" stroke="#222" stroke-width="1.2"/>
<text x="574.6" y="391.1" font-size="17.5" fill="#1c1c1c" stroke="#1c1c1c" stroke-width="0.75">x</text>
<text x="582.6" y="397.9" font-size="11" fill="#1c1c1c" stroke="#1c1c1c" stroke-width="0.3">1</text>
<path d="M624.5,380.8 V392.5 Q624.5,394.2 626.5,394.2 H627.2" fill="none" stroke="#1c1c1c" stroke-width="1.9"/>
<text x="627.5" y="401.1" font-size="11" fill="#1c1c1c" stroke="#1c1c1c" stroke-width="0.3">1</text>
<text x="774.6" y="432" font-size="21" fill="#111" text-anchor="middle" style="font-family:'Liberation Serif',serif">(b) Learning to Act by Latent Imagination</text>
</svg></body></html>
